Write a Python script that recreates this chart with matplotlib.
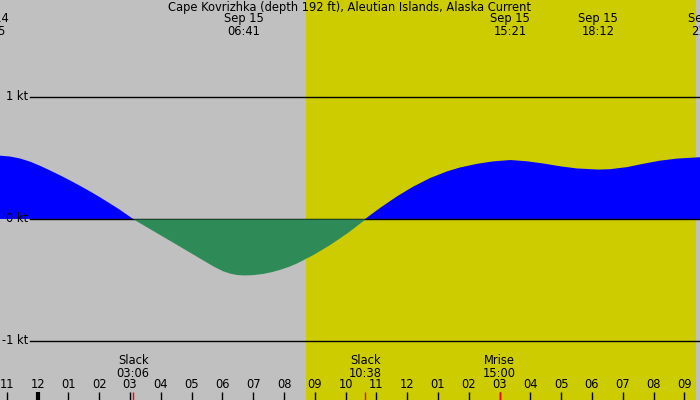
import matplotlib
matplotlib.use("Agg")
import matplotlib.pyplot as plt
import matplotlib.transforms as mtransforms
import numpy as np

# ---- data (hours relative to Sep 15 00:00, current in knots) ----
hours = [-1.224, -0.900, -0.575, -0.250, 0.075, 0.399, 0.724, 1.049,
         1.374, 1.699, 2.023, 2.348, 2.673, 3.100,
         3.600, 4.100, 4.600, 5.100, 5.700, 6.000, 6.250, 6.450, 6.683,
         7.000, 7.317, 7.600, 7.869, 8.150, 8.421, 8.940, 9.493, 10.045,
         10.633, 11.116, 11.668, 12.188, 12.740, 13.292, 13.715, 14.267,
         14.786, 15.350, 15.892, 16.412, 16.964, 17.516, 18.200, 18.587,
         19.140, 19.659, 20.211, 20.763, 21.510]
speed = [0.519, 0.512, 0.496, 0.470, 0.436, 0.398, 0.358, 0.316,
         0.272, 0.226, 0.178, 0.127, 0.075, 0.0,
         -0.074, -0.148, -0.222, -0.297, -0.386, -0.424, -0.445, -0.455,
         -0.459, -0.456, -0.446, -0.431, -0.412, -0.388, -0.359, -0.291,
         -0.208, -0.113,
         0.0, 0.090, 0.185, 0.264, 0.335, 0.390, 0.422, 0.452,
         0.472, 0.483, 0.473, 0.455, 0.432, 0.414, 0.405, 0.408,
         0.425, 0.452, 0.478, 0.495, 0.506]

title = "Cape Kovrizhka (depth 192 ft), Aleutian Islands, Alaska Current"
peak_hours = [-1.58, 6.683, 15.35, 18.2, 21.77]
peak_labels = ["Sep 14\n22:25", "Sep 15\n06:41", "Sep 15\n15:21",
               "Sep 15\n18:12", "Sep 15\n21:46"]
event_hours = [3.10, 10.633, 15.0]
event_labels = ["Slack\n03:06", "Slack\n10:38", "Mrise\n15:00"]
sunrise, sunset = 8.714, 21.38
kt_levels = [1, 0, -1]
kt_labels = ["1 kt", "0 kt", "-1 kt"]
tick_hours = list(range(-1, 22))
tick_labels = ["%02d" % (((h % 12) or 12)) for h in tick_hours]

# ---- figure ----
W, H = 700, 400
fig = plt.figure(figsize=(7, 4), dpi=100)
ax = fig.add_axes([0, 0, 1, 1])
ax.set_xlim(-1.224, 21.51)
ax.set_ylim(-1.484, 1.795)
fig.patch.set_facecolor("#c0c0c0")
ax.axis("off")
ax.add_patch(plt.Rectangle((0, 0), 1, 1, transform=ax.transAxes,
                           color="#c0c0c0", zorder=0))
ax.axvspan(sunrise, sunset, color="#cccc00", zorder=1, lw=0)

t = np.array(hours)
v = np.array(speed)
ax.fill_between(t, 0, v, where=v >= 0, color="#0000ff", lw=0,
                interpolate=True, zorder=2, antialiased=True)
for y in kt_levels:
    ax.axhline(y, xmin=30 / W, xmax=1, color="black", lw=1, zorder=3)
ax.fill_between(t, 0, v, where=v <= 0, color="#2e8b57", lw=0,
                interpolate=True, zorder=4, antialiased=True)

fs = 8.3
blend = mtransforms.blended_transform_factory(ax.transData, ax.transAxes)
blend_y = mtransforms.blended_transform_factory(ax.transAxes, ax.transData)

for y, lab in zip(kt_levels, kt_labels):
    ax.text(28 / W, y, lab, transform=blend_y, ha="right", va="center",
            fontsize=fs, color="black", zorder=5)

ax.text(0.5, 1 - 7 / H, title, transform=ax.transAxes, ha="center",
        va="center", fontsize=fs, zorder=5)

for h, lab in zip(peak_hours, peak_labels):
    ax.text(h, 1 - 25 / H, lab, transform=blend, ha="center", va="center",
            fontsize=fs, linespacing=1.0, zorder=5)

for h, lab in zip(event_hours, event_labels):
    ax.text(h, 33 / H, lab, transform=blend, ha="center", va="center",
            fontsize=fs, linespacing=1.0, zorder=5)

for h, lab in zip(tick_hours, tick_labels):
    ax.text(h, 15 / H, lab, transform=blend, ha="center", va="center",
            fontsize=fs, zorder=5)
    lw = 3 if h % 24 == 0 else 1
    ax.plot([h, h], [0, 8 / H], transform=blend, color="black", lw=lw,
            solid_capstyle="butt", zorder=5)

for h in event_hours:
    ax.plot([h, h], [0, 8 / H], transform=blend, color="red", lw=1,
            solid_capstyle="butt", zorder=6)

fig.savefig("out.png", dpi=100, facecolor=fig.get_facecolor())
